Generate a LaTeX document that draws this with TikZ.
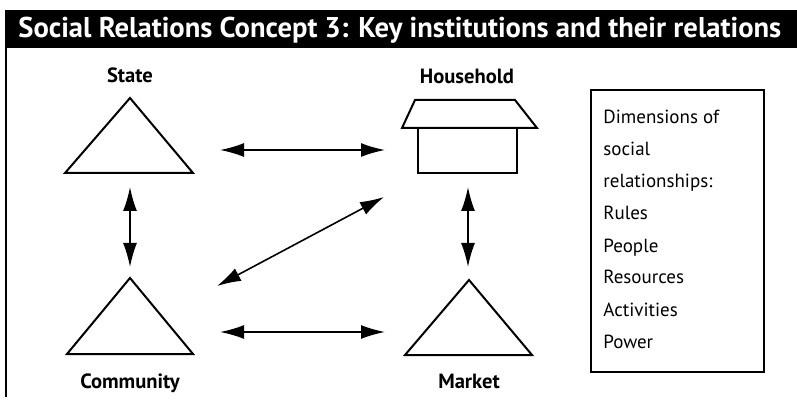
\documentclass[tikz,border=0pt]{standalone}
\usepackage{fontspec}
\setmainfont{PT Sans}
\usetikzlibrary{arrows.meta}

\begin{document}
\begin{tikzpicture}[x=0.5pt,y=-0.5pt,
  shape line/.style={line width=1pt, line join=miter},
  inst name/.style={font=\bfseries\fontsize{10.3}{12}\selectfont, anchor=base, inner sep=0pt},
  dim text/.style={font=\fontsize{9.5}{11}\selectfont, anchor=base west, inner sep=0pt},
  rel/.style={{Latex[length=12pt,width=7pt]}-{Latex[length=12pt,width=7pt]}, line width=0.8pt}]
\useasboundingbox (0,0) rectangle (797,406);
% title bar
\fill[black] (5,10) rectangle (797,48);
\node[text=white, font=\bfseries\fontsize{14.3}{17}\selectfont, anchor=base west, inner sep=0pt] (title) at (18,38) {Social Relations Concept 3: Key institutions and their relations};
\draw[line width=1pt] (5.5,48) -- (5.5,397);
% institutions
\node[inst name] (state) at (130,83) {State};
\draw[shape line] (130,98) -- (193,173) -- (65,173) -- cycle;
\node[inst name] (household) at (467,84) {Household};
\draw[shape line] (415,100) -- (515,100) -- (537,128) -- (402,128) -- cycle;
\draw[shape line] (418,128) rectangle (517,173);
\node[inst name] (community) at (130,388) {Community};
\draw[shape line] (130,278) -- (193,354) -- (67,354) -- cycle;
\node[inst name] (market) at (469,388) {Market};
\draw[shape line] (469,280) -- (532,355) -- (405,355) -- cycle;
% arrow ends
\coordinate (sh1) at (220,150);
\coordinate (sh2) at (385,150);
\coordinate (sc1) at (130,187);
\coordinate (sc2) at (130,267);
\coordinate (hm1) at (468,187);
\coordinate (hm2) at (468,267);
\coordinate (cm1) at (220,332);
\coordinate (cm2) at (385,332);
\coordinate (ch1) at (217,286);
\coordinate (ch2) at (384,197);
\draw[rel] (sh1) -- (sh2);
\draw[rel] (sc1) -- (sc2);
\draw[rel] (hm1) -- (hm2);
\draw[rel] (cm1) -- (cm2);
\draw[rel] (ch1) -- (ch2);
% dimensions box
\draw[line width=1pt] (591,90) rectangle (764,372);
\foreach \t [count=\i] in {Dimensions of, social, relationships:, Rules, People, Resources, Activities, Power}
  \node[dim text] (dim\i) at (603,{124+32*(\i-1)}) {\t};
\end{tikzpicture}
\end{document}
